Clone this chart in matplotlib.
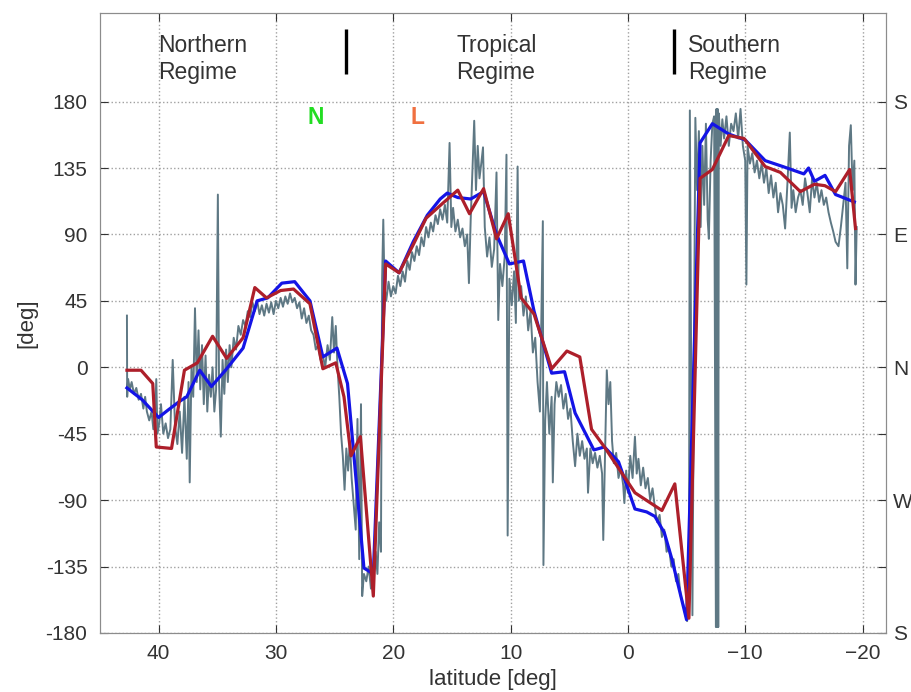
import matplotlib
matplotlib.use("Agg")
import matplotlib.pyplot as plt

plt.rcParams['font.family'] = ['Liberation Sans', 'DejaVu Sans']

# --- DATA ---
# raw heading track (gray)
gray_lat = [42.7, 42.68, 42.6, 42.45, 42.3, 42.1, 41.9, 41.7, 41.5, 41.3, 41.15, 41.0, 40.8, 40.6,
            40.45, 40.3, 40.2, 40.1, 39.95, 39.8, 39.6, 39.4, 39.2, 39.0, 38.8, 38.6, 38.4, 38.2,
            38.0, 37.8, 37.6, 37.45, 37.35, 37.2, 37.05, 36.9, 36.75, 36.6, 36.45, 36.3, 36.15,
            36.0, 35.85, 35.7, 35.55, 35.4, 35.25, 35.1, 34.95, 34.85, 34.7, 34.55, 34.4, 34.25,
            34.1, 33.95, 33.8, 33.6, 33.4, 33.2, 33.0, 32.8, 32.6, 32.4, 32.2, 32.0, 31.8, 31.6,
            31.4, 31.2, 31.0, 30.8, 30.6, 30.4, 30.2, 30.0, 29.8, 29.6, 29.4, 29.2, 29.0, 28.8,
            28.6, 28.4, 28.2, 28.0, 27.8, 27.6, 27.4, 27.2, 27.0, 26.8, 26.6, 26.4, 26.2, 26.0,
            25.8, 25.6, 25.4, 25.2, 25.05, 24.9, 24.75, 24.6, 24.45, 24.3, 24.15, 24.0, 23.85,
            23.7, 23.55, 23.4, 23.2, 23.05, 22.9, 22.75, 22.65, 22.5, 22.3, 22.1, 21.9, 21.7,
            21.5, 21.35, 21.2, 21.05, 20.95, 20.85, 20.75, 20.6, 20.4, 20.2, 20.0, 19.8, 19.6,
            19.4, 19.2, 19.0, 18.8, 18.6, 18.4, 18.2, 18.0, 17.8, 17.6, 17.4, 17.2, 17.0, 16.8,
            16.6, 16.4, 16.2, 16.0, 15.8, 15.6, 15.4, 15.2, 15.05, 14.9, 14.7, 14.5, 14.3, 14.1,
            13.9, 13.7, 13.55, 13.4, 13.2, 13.1, 12.95, 12.8, 12.65, 12.5, 12.35, 12.2, 12.0,
            11.8, 11.6, 11.4, 11.2, 11.05, 10.9, 10.7, 10.5, 10.35, 10.25, 10.1, 9.9, 9.7, 9.55,
            9.4, 9.3, 9.1, 8.9, 8.7, 8.5, 8.3, 8.1, 7.9, 7.7, 7.5, 7.25, 7.2, 7.05, 6.9, 6.7, 6.5,
            6.4, 6.25, 6.1, 5.9, 5.7, 5.5, 5.3, 5.1, 4.9, 4.7, 4.5, 4.3, 4.1, 3.9, 3.7, 3.5, 3.4,
            3.2, 3.0, 2.8, 2.6, 2.4, 2.2, 2.1, 1.95, 1.8, 1.65, 1.5, 1.35, 1.2, 1.0, 0.8, 0.6,
            0.4, 0.3, 0.15, 0.0, -0.2, -0.4, -0.6, -0.75, -0.9, -1.1, -1.3, -1.5, -1.7, -1.9,
            -2.1, -2.3, -2.5, -2.7, -2.9, -3.1, -3.3, -3.5, -3.7, -3.9, -4.1, -4.3, -4.5, -4.7,
            -4.9, -5.05, -5.2, -5.28, -5.5, -5.75, -5.9, -6.05, -6.2, -6.35, -6.5, -6.65, -6.8,
            -6.9, -7.05, -7.2, -7.35, -7.5, -7.55, -7.6, -7.65, -7.7, -7.75, -7.9, -8.05, -8.2,
            -8.4, -8.6, -8.8, -9.0, -9.2, -9.4, -9.6, -9.8, -10.0, -10.1, -10.2, -10.4, -10.6,
            -10.8, -11.0, -11.2, -11.4, -11.6, -11.8, -12.0, -12.2, -12.4, -12.6, -12.8, -13.0,
            -13.2, -13.4, -13.6, -13.8, -13.95, -14.1, -14.3, -14.5, -14.7, -14.9, -15.1, -15.3,
            -15.5, -15.7, -15.9, -16.1, -16.3, -16.5, -16.7, -16.9, -17.1, -17.3, -17.5, -17.7,
            -17.95, -18.15, -18.35, -18.55, -18.7, -18.85, -19.0, -19.15, -19.3, -19.4, -19.5]
gray_val = [35, -20, -8, -15, -10, -18, -14, -22, -18, -28, -20, -30, -36, -30,
            -42, -35, -8, -45, -38, -25, -45, -38, -48, -42, 5, -40, -52, -30,
            -58, -20, -62, -10, -78, 0, -20, 40, -10, 25, -15, 15, -25,
            8, -30, -5, -20, 0, -30, -15, 117, -10, -47, 5, -18, 12,
            -10, 15, 0, 20, 12, 28, 22, 32, 28, 38, 34, 44, 38, 45,
            36, 42, 35, 43, 37, 44, 36, 45, 40, 47, 41, 48, 43, 50,
            44, 47, 40, 44, 33, 40, 30, 35, 25, 22, 12, 15, 5, 8,
            0, 15, 5, 34, 10, 28, 0, -20, -45, -60, -83, -55, -70,
            -50, -75, -90, -110, -35, -130, -25, -155, -140, -145, -135, -150, -145,
            -125, -140, -105, -125, 60, 100, 55, 45, 58, 48, 55, 50, 62,
            55, 65, 58, 72, 66, 78, 72, 82, 76, 88, 82, 95, 88, 98,
            92, 103, 97, 107, 100, 110, 98, 152, 95, 108, 92, 100, 88, 94,
            82, 90, 57, 100, 145, 167, 120, 150, 128, 138, 149, 95, 75,
            88, 68, 80, 132, 32, 70, 55, 75, 144, -114, 60, 42, 65, 30,
            136, 45, 55, 35, 48, 25, 38, 10, 20, -10, -30, 99, -134, -36, -10, -45, -20,
            -78, -25, -10, -20, -12, -28, -18, -35, -28, -50, -67, -45, -60, -50, -62, -55, -85,
            -55, -65, -58, -68, -60, -72, -117, -60, -2, -25, -10, -50, -65, -58, -75, -68,
            -80, -92, -70, -85, -60, -75, -47, -72, -62, -80, -68, -82, -75, -90,
            -82, -95, -105, -100, -115, -110, -125, -122, -135, -130, -145, -140, -155, -160,
            -168, -172, -155, 174, -168, 169, 120, 160, 95, 150, 110, 165, 100,
            87, 140, 165, 170, -176, 175, -176, 175, -176, 172, 150, 168, 155,
            170, 150, 165, 160, 172, 155, 175, 150, 140, 56, 150, 138, 145,
            132, 140, 128, 138, 125, 135, 118, 130, 115, 125, 105, 118,
            110, 94, 125, 159, 108, 120, 105, 115, 120, 110, 128, 118,
            105, 128, 115, 125, 112, 120, 110, 115, 105, 98, 92, 85,
            82, 95, 110, 125, 67, 150, 164, 120, 140, 56, 95]

# smoothed estimate (blue)
blue_lat = [42.7, 41.4, 40.0, 39.2, 38.2, 37.6, 36.5, 35.5, 34.3, 32.8, 31.6, 30.7, 29.5, 28.4,
            27.1, 26.0, 24.8, 23.9, 22.5, 21.7, 20.65, 19.5, 18.3, 17.1, 16.0, 15.4, 14.5, 13.4,
            12.3, 11.2, 10.1, 8.9, 8.0, 6.5, 5.4, 4.5, 2.9, 2.0, 0.8, -0.6, -1.6, -2.3, -3.1,
            -3.75, -5.0, -6.15, -7.2, -8.6, -10.0, -11.7, -13.2, -15.0, -15.4, -15.9, -16.8,
            -17.7, -19.3]
blue_val = [-14, -22, -34, -29, -23, -20, -2, -13, -2, 13, 45, 47, 57, 58,
            45, 7, 13, -11, -136, -140, 72, 64, 85, 103, 114, 118, 115, 114,
            119, 90, 70, 72, 38, -4, -3, -31, -56, -54, -64, -96, -98, -101, -112,
            -130, -171, 152, 165, 158, 154, 140, 136, 131, 135, 126, 130,
            117, 112]

# second estimate (red)
red_lat = [42.7, 41.5, 40.5, 40.2, 38.9, 37.8, 36.7, 35.4, 34.2, 32.8, 31.8, 30.8, 29.6, 28.5,
           27.1, 26.0, 24.9, 24.2, 23.6, 22.8, 21.7, 20.65, 19.5, 18.3, 17.2, 15.8, 14.5, 13.5,
           12.3, 11.2, 10.2, 9.1, 8.0, 6.5, 5.2, 4.1, 3.1, 2.0, -0.6, -2.9, -4.0, -5.2, -6.15,
           -7.2, -8.6, -9.9, -11.7, -13.0, -14.7, -15.9, -16.8, -17.7, -18.9, -19.4]
red_val = [-2, -2, -11, -54, -55, -2, 3, 21, 6, 20, 54, 47, 52, 53,
           43, -1, 3, -20, -60, -47, -155, 70, 64, 83, 101, 111, 120, 104,
           121, 87, 104, 47, 36, -1, 11, 7, -42, -54, -85, -97, -79, -170, 128,
           134, 157, 155, 136, 132, 119, 124, 123, 119, 134, 94]

x_ticks = [40, 30, 20, 10, 0, -10, -20]
x_ticklabels = ['40', '30', '20', '10', '0', '\u221210', '\u221220']
y_ticks = [-180, -135, -90, -45, 0, 45, 90, 135, 180]
y_ticklabels = ['-180', '-135', '-90', '-45', '0', '45', '90', '135', '180']
compass_labels = ['S', '', 'W', '', 'N', '', 'E', '', 'S']

regime_names = ['Northern\nRegime', 'Tropical\nRegime', 'Southern\nRegime']
regime_text_lat = [40.0, 14.65, -5.1]
regime_bounds = [24.0, -3.9]

FS_TICK = 15
FS_TEXT = 16.5

# --- FIGURE ---
fig = plt.figure(figsize=(9.12, 6.92), dpi=100)
ax = fig.add_axes([0.1096, 0.0853, 0.8619, 0.8959])

ax.plot(gray_lat, gray_val, color='#5e7884', lw=1.4, zorder=2)
ax.plot(blue_lat, blue_val, color='#1414e6', lw=2.3, zorder=3)
ax.plot(red_lat, red_val, color='#ad1f2a', lw=2.3, zorder=4)

ax.set_xlim(45, -22)
ax.set_ylim(-180, 240)
ax.set_xticks(x_ticks)
ax.set_xticklabels(x_ticklabels)
ax.set_yticks(y_ticks)
ax.set_yticklabels(y_ticklabels)
ax.grid(True, linestyle=':', color='#a0a0a0', lw=1.0)
ax.tick_params(direction='in', length=6, labelsize=FS_TICK, colors='#333333',
               top=True, right=False, pad=9)
ax.tick_params(axis='x', pad=8)
for sp in ax.spines.values():
    sp.set_color('#8c8c8c')

ax.set_xlabel('latitude [deg]', fontsize=16, color='#333333', labelpad=4)
ax.set_ylabel('[deg]', fontsize=16, color='#333333', labelpad=6)

# compass labels on the right
ax2 = ax.twinx()
ax2.set_ylim(ax.get_ylim())
ax2.set_yticks(y_ticks)
ax2.set_yticklabels(compass_labels)
ax2.tick_params(direction='in', length=6, labelsize=FS_TICK, colors='#333333', pad=5)
for sp in ax2.spines.values():
    sp.set_color('#8c8c8c')

# regime annotations
for name, lat in zip(regime_names, regime_text_lat):
    ax.text(lat, 226, name, fontsize=FS_TEXT, color='#333333', ha='left', va='top',
            linespacing=1.25)
for b in regime_bounds:
    ax.plot([b, b], [199, 229], color='black', lw=2.4, solid_capstyle='butt')

ax.text(26.6, 169, 'N', color='#22dd22', fontsize=FS_TEXT, fontweight='bold',
        ha='center', va='center')
ax.text(17.9, 169, 'L', color='#f07040', fontsize=FS_TEXT, fontweight='bold',
        ha='center', va='center')

fig.savefig('out.png', dpi=100)
